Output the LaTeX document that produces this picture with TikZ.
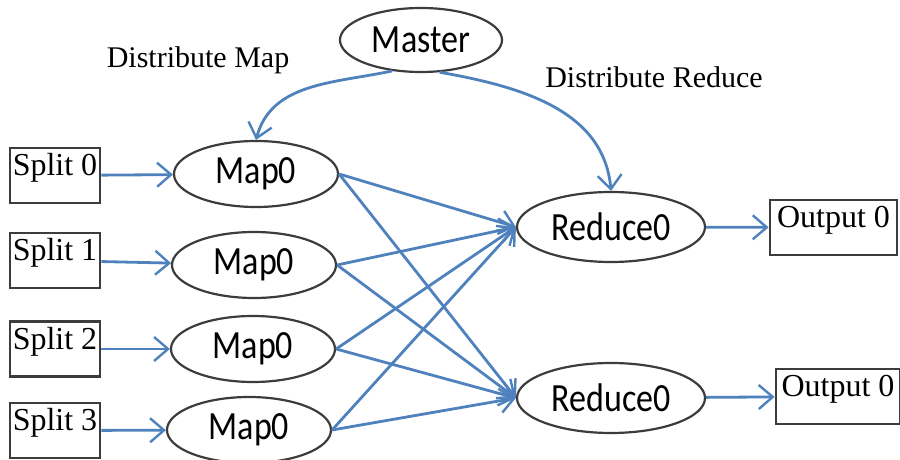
\documentclass[tikz,border=0pt]{standalone}
\usepackage{fontspec}
\setmainfont{Liberation Serif}
\newfontfamily\calibri{Carlito}[FakeStretch=0.85]
\usepackage{tikz}
\usetikzlibrary{shapes,arrows,arrows.meta,positioning,calc}
\definecolor{flowblue}{RGB}{79,129,189}
\definecolor{rim}{RGB}{60,60,60}

\tikzset{
  task/.style={ellipse, draw=rim, line width=1.1pt, inner sep=0pt, font=\calibri\fontsize{20}{24}\selectfont},
  mapnode/.style={task, minimum width=82pt, minimum height=33pt},
  reducenode/.style={task, minimum width=94pt, minimum height=35pt},
  filebox/.style={rectangle, draw=rim, line width=1.4pt, inner xsep=1pt, inner ysep=2pt, text height=12pt, text depth=11.5pt, font=\fontsize{16}{19}\selectfont},
  caption/.style={anchor=base, font=\fontsize{15}{18}\selectfont},
  flowline/.style={draw=flowblue, line width=1.4pt, -{Straight Barb[length=7pt,width=12pt,line width=1.2pt]}},
}

\begin{document}
\begin{tikzpicture}[x=0.5pt,y=0.5pt]
    \useasboundingbox (0,0) rectangle (900,460);

    % Master and labels
    \node[task, minimum width=81pt, minimum height=32pt] (master) at (421,420) {Master};
    \node[caption] (distmap) at (198,392) {Distribute Map};
    \node[caption] (distred) at (654,372) {Distribute Reduce};

    % Input splits
    \node[filebox, minimum width=45pt] (split0) at (55,284.5) {Split 0};
    \node[filebox, minimum width=45pt] (split1) at (55,199.5) {Split 1};
    \node[filebox, minimum width=45pt] (split2) at (55,111) {Split 2};
    \node[filebox, minimum width=45pt] (split3) at (55,29.5) {Split 3};

    % Map tasks
    \node[mapnode] (map0) at (256,286) {Map0};
    \node[mapnode] (map1) at (254,195) {Map0};
    \node[mapnode] (map2) at (253,111) {Map0};
    \node[mapnode] (map3) at (249,30) {Map0};

    % Reduce tasks
    \node[reducenode] (red0) at (611,233) {Reduce0};
    \node[reducenode] (red1) at (611,62) {Reduce0};

    % Outputs
    \node[filebox, minimum width=63.5pt] (out0) at (833.5,232.5) {Output 0};
    \node[filebox, minimum width=62pt] (out1) at (838,63.5) {Output 0};

    % Master hands out work
    \draw[flowline] (master.227) to[out=192,in=75] (map0.north);
    \draw[flowline] (master.300) to[out=-10,in=95] (red0.north);

    % Splits into maps
    \draw[flowline] (split0) -- (map0);
    \draw[flowline] (split1) -- (map1);
    \draw[flowline] (split2) -- (map2);
    \draw[flowline] (split3) -- (map3);

    % Shuffle
    \draw[flowline] (map0.east) -- (red0.west);
    \draw[flowline] (map0.east) -- (red1.west);
    \draw[flowline] (map1.east) -- (red0.west);
    \draw[flowline] (map1.east) -- (red1.west);
    \draw[flowline] (map2.east) -- (red0.west);
    \draw[flowline] (map2.east) -- (red1.west);
    \draw[flowline] (map3.east) -- (red0.west);
    \draw[flowline] (map3.east) -- (red1.west);

    % Reduces into outputs
    \draw[flowline] (red0) -- (out0);
    \draw[flowline] (red1) -- (out1);
\end{tikzpicture}
\end{document}
